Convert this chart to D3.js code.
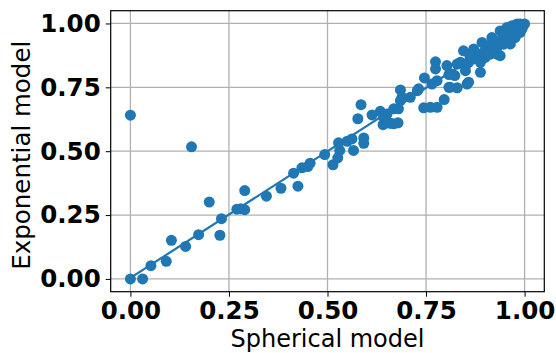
<!DOCTYPE html>
<html>
<head>
<meta charset="utf-8">
<script src="https://cdn.jsdelivr.net/npm/d3@7"></script>
<style>
  body { margin: 0; background: #fff; }
  svg { display: block; }
</style>
</head>
<body>
<script>
// data
const sphericalVals = [
  0, 0.155, 0.29, 0.2, 0.27, 0.28, 0.29, 0.231, 0.227, 0.173, 0.14, 0.104, 0.091, 0.052, 0, 0.031,
  0.345, 0.382, 0.425, 0.414, 0.435, 0.45, 0.456, 0.493,
  0.514, 0.526, 0.531, 0.528, 0.55, 0.562, 0.566, 0.592, 0.592, 0.577, 0.585, 0.613,
  0.634, 0.647, 0.641, 0.659, 0.679, 0.685, 0.685, 0.68, 0.71, 0.731,
  0.744, 0.761, 0.778, 0.796, 0.746, 0.774, 0.774, 0.778, 0.765,
  0.803, 0.808, 0.808, 0.829, 0.854, 0.823, 0.837, 0.85, 0.858, 0.845,
  0.871, 0.871, 0.888, 0.892, 0.888, 0.9, 0.905,
  0.917, 0.921, 0.93, 0.938, 0.938, 0.947, 0.955, 0.96,
  0.968, 0.976, 0.989, 1.0, 0.964, 0.976, 0.989,
  0.689, 0.728, 0.668, 0.651, 0.642, 0.668, 0.816, 0.811, 0.85, 0.858,
  0.829, 0.862, 0.879, 0.896, 0.913, 0.93, 0.947, 0.981, 0.993, 0.955, 0.981,
  0.91, 0.925, 0.94, 0.95, 0.97, 0.985, 0.995, 0.88, 0.86, 0.9
];
const exponentialVals = [
  0.641, 0.517, 0.346, 0.301, 0.273, 0.275, 0.271, 0.236, 0.171, 0.173, 0.127, 0.151, 0.069, 0.052, 0, 0,
  0.324, 0.355, 0.363, 0.414, 0.435, 0.44, 0.453, 0.487,
  0.447, 0.474, 0.503, 0.533, 0.539, 0.548, 0.503, 0.552, 0.531, 0.627, 0.682, 0.642,
  0.656, 0.639, 0.604, 0.609, 0.611, 0.698, 0.74, 0.666, 0.711, 0.744,
  0.67, 0.672, 0.672, 0.702, 0.787, 0.85, 0.822, 0.776, 0.763,
  0.835, 0.8, 0.75, 0.748, 0.763, 0.796, 0.848, 0.835, 0.848, 0.893,
  0.9, 0.861, 0.809, 0.926, 0.848, 0.867, 0.893,
  0.945, 0.913, 0.88, 0.874, 0.971, 0.958, 0.945, 0.932,
  0.991, 0.978, 0.998, 0.998, 0.92, 0.945, 0.965,
  0.711, 0.737, 0.666, 0.646, 0.633, 0.607, 0.802, 0.75, 0.815, 0.77,
  0.841, 0.867, 0.867, 0.887, 0.88, 0.906, 0.919, 0.958, 0.978, 0.984, 0.998,
  0.9, 0.93, 0.935, 0.96, 0.975, 0.99, 0.985, 0.875, 0.88, 0.915
];
const fitX = [0, 1];
const fitY = [0.004, 0.996];
const tickVals = [0, 0.25, 0.5, 0.75, 1.0];

const W = 556, H = 353;
const margin = {top: 10.7, right: 11.7, bottom: 61.3, left: 110.7};
const width = W - margin.left - margin.right,
      height = H - margin.top - margin.bottom;

const svg = d3.select("body").append("svg")
  .attr("width", W)
  .attr("height", H)
  .style("font-family", "'DejaVu Sans', sans-serif");

const g = svg.append("g")
  .attr("transform", `translate(${margin.left},${margin.top})`);

const x = d3.scaleLinear().domain([-0.05, 1.05]).range([0, width]);
const y = d3.scaleLinear().domain([-0.05, 1.05]).range([height, 0]);

// grid
g.append("g").selectAll("line")
  .data(tickVals).enter().append("line")
  .attr("x1", d => x(d)).attr("x2", d => x(d))
  .attr("y1", 0).attr("y2", height)
  .attr("stroke", "#b0b0b0").attr("stroke-width", 1.3);
g.append("g").selectAll("line")
  .data(tickVals).enter().append("line")
  .attr("y1", d => y(d)).attr("y2", d => y(d))
  .attr("x1", 0).attr("x2", width)
  .attr("stroke", "#b0b0b0").attr("stroke-width", 1.3);

// points
const pts = sphericalVals.map((v, i) => ({sx: v, ey: exponentialVals[i]}));
g.append("g").selectAll("circle")
  .data(pts).enter().append("circle")
  .attr("cx", d => x(d.sx))
  .attr("cy", d => y(d.ey))
  .attr("r", 5.5)
  .attr("fill", "#1f77b4");

// fit line
const fit = fitX.map((v, i) => [v, fitY[i]]);
g.append("path")
  .datum(fit)
  .attr("fill", "none")
  .attr("stroke", "#1f77b4")
  .attr("stroke-width", 2.2)
  .attr("d", d3.line().x(d => x(d[0])).y(d => y(d[1])));

// axes
const fmt = d3.format(".2f");
const xAxis = g.append("g")
  .attr("transform", `translate(0,${height})`)
  .call(d3.axisBottom(x).tickValues(tickVals).tickFormat(fmt).tickSize(5).tickPadding(5));
const yAxis = g.append("g")
  .call(d3.axisLeft(y).tickValues(tickVals).tickFormat(fmt).tickSize(5).tickPadding(5));

[xAxis, yAxis].forEach(a => {
  a.select(".domain").remove();
  a.selectAll("line").attr("stroke", "#000").attr("stroke-width", 1);
  a.selectAll("text")
    .attr("fill", "#000")
    .style("font-size", "24.5px")
    .style("font-weight", "bold")
    .style("font-family", "'DejaVu Sans', sans-serif");
});

// frame
g.append("rect")
  .attr("width", width).attr("height", height)
  .attr("fill", "none").attr("stroke", "#000").attr("stroke-width", 1.2);

// labels
svg.append("text")
  .attr("x", margin.left + width / 2)
  .attr("y", 347)
  .attr("text-anchor", "middle")
  .style("font-size", "24px")
  .text("Spherical model");

svg.append("text")
  .attr("transform", `translate(30,${margin.top + height / 2 + 4}) rotate(-90)`)
  .attr("text-anchor", "middle")
  .style("font-size", "24.5px")
  .text("Exponential model");
</script>
</body>
</html>
